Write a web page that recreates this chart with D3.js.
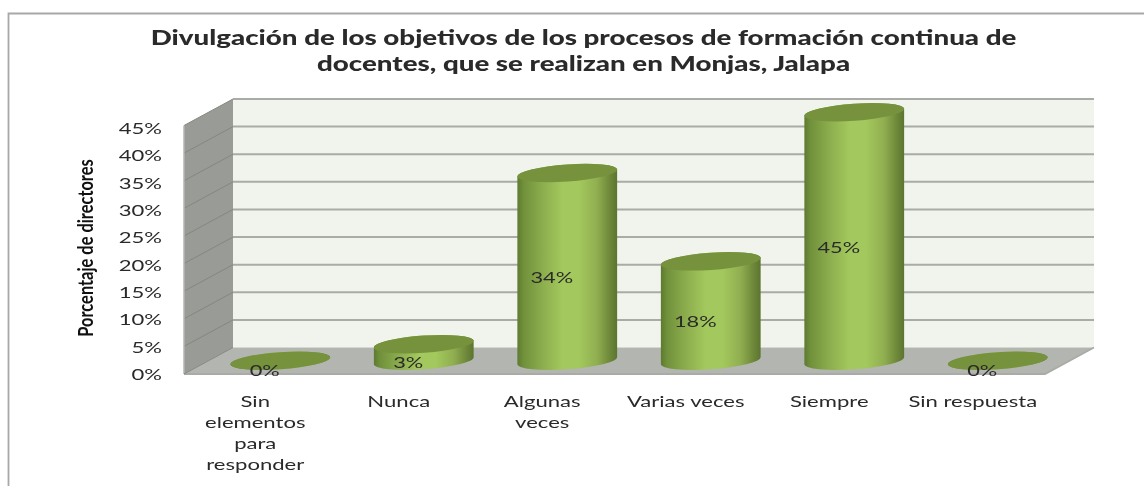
<!DOCTYPE html>
<html><head><meta charset="utf-8">
<script src="https://cdn.jsdelivr.net/npm/d3@7"></script>
<style>html,body{margin:0;padding:0;background:#fff}svg{display:block;filter:blur(.4px)}text{font-family:Lato,"Open Sans",sans-serif;fill:#2a2a2a}</style>
</head><body><svg id="c" width="1144" height="486"></svg>
<script>
const titleLines = ["Divulgación de los objetivos de los procesos de formación continua de","docentes, que se realizan en Monjas, Jalapa"];
const yTitle = "Porcentaje de directores";
const categories = [["Sin","elementos","para","responder"],["Nunca"],["Algunas","veces"],["Varias veces"],["Siempre"],["Sin respuesta"]];
const values = [0,3,34,18,45,0];
const yTicks = [0,5,10,15,20,25,30,35,40,45];

const svg = d3.select("#c");
const depthX = 49, depthY = -26.5;
const x = d3.scaleBand().domain(d3.range(categories.length)).range([184,1045]);
const y = d3.scaleLinear().domain([0,45]).range([374,125.5]);
const yLabel = d3.scaleLinear().domain([0,45]).range([374.5,128.5]);
const stretch = (sel,k)=>sel.each(function(){
  const n=this; n.setAttribute("textLength",n.getComputedTextLength()*k); n.setAttribute("lengthAdjust","spacingAndGlyphs");
});

// frame
svg.append("path").attr("d","M8.5,486V13.5H1144").attr("fill","none").attr("stroke","#a8a8a8").attr("stroke-width",1.8);

// gradient
const g = svg.append("defs").append("linearGradient").attr("id","cyl");
[[0,"#5d7a30"],[.06,"#71903b"],[.25,"#8cad4d"],[.45,"#a3c85d"],[.62,"#a3c85d"],[.8,"#90ae50"],[.92,"#6f8a3a"],[1,"#5b7530"]]
 .forEach(([o,c])=>g.append("stop").attr("offset",o).attr("stop-color",c));

const [x0,x1]=x.range(), y0=y(0), yT=y(45);
const gridC="#a9aba6";
// walls
svg.append("path").attr("d",`M${x0+depthX},${yT+depthY}H${x1+depthX}V${y0+depthY}H${x0+depthX}Z`).attr("fill","#f1f4ec");
svg.append("path").attr("d",`M${x0},${yT}L${x0+depthX},${yT+depthY}V${y0+depthY}L${x0},${y0}Z`).attr("fill","#999b96");
svg.append("path").attr("d",`M${x0},${y0}L${x0+depthX},${y0+depthY}H${x1+depthX}L${x1},${y0}Z`).attr("fill","#b3b5b0");
// grid
const grid=svg.append("g");
grid.selectAll("path.side").data(yTicks.filter(d=>d>0)).join("path").attr("class","side")
  .attr("d",d=>`M${x0},${y(d)}L${x0+depthX},${y(d)+depthY}`)
  .attr("fill","none").attr("stroke","#85877f").attr("stroke-width",1);
grid.selectAll("path.back").data(yTicks.filter(d=>d>0)).join("path").attr("class","back")
  .attr("d",d=>`M${x0+depthX},${y(d)+depthY}H${x1+depthX}`)
  .attr("fill","none").attr("stroke",gridC).attr("stroke-width",2);
svg.append("path").attr("d",`M${x0},${y0}H${x1}L${x1+depthX},${y0+depthY}`).attr("fill","none").attr("stroke",gridC).attr("stroke-width",1.8);
svg.append("path").attr("d",`M${x0},${yT}V${y0}`).attr("stroke","#b4b6b1").attr("stroke-width",1.5);
svg.append("path").attr("d",`M${x0},${y0}L${x0+depthX},${y0+depthY}`).attr("stroke","#85877f").attr("stroke-width",1);

// cylinders
const rx=50, ry=8.6, tilt=-4, cos=Math.cos(tilt*Math.PI/180), sin=Math.sin(tilt*Math.PI/180);
const cx=i=>x(i)+x.bandwidth()/2+depthX/2, base=y0+depthY/2;
const hgt=v=>y0-y(v);
const bars=svg.append("g").selectAll("g").data(values).join("g");
bars.append("path")
  .attr("d",(v,i)=>{
    const dx=rx*cos, dy=rx*sin, c=cx(i), t=base-hgt(v);
    return `M${c-dx},${t-dy}L${c-dx},${base-dy}A${rx},${ry},${tilt},0,0,${c+dx},${base+dy}L${c+dx},${t+dy}A${rx},${ry},${tilt},0,0,${c-dx},${t-dy}Z`;
  }).attr("fill","url(#cyl)");
bars.append("ellipse")
  .attr("rx",rx).attr("ry",ry).attr("fill","#76923c")
  .attr("transform",(v,i)=>`translate(${cx(i)},${base-hgt(v)}) rotate(${tilt})`);
// value labels
bars.append("text").attr("text-anchor","middle").attr("font-size",16)
  .attr("x",(v,i)=>cx(i)-15.5)
  .attr("y",v=>base-hgt(v)/2*0.985+15)
  .text(v=>v+"%").call(stretch,1.36);

// y axis
const ax=svg.append("g").attr("transform",`translate(${x0-22},0)`)
  .call(d3.axisLeft(yLabel).tickValues(yTicks).tickSize(0).tickPadding(0).tickFormat(d=>d+"%"));
ax.select(".domain").remove();
ax.selectAll("text").attr("font-size",16).attr("dy","0.32em").style("font-family",'Lato,"Open Sans",sans-serif').attr("fill","#2a2a2a").call(stretch,1.38);

// category labels
const cat=svg.append("g").selectAll("g").data(categories).join("g");
cat.each(function(lines,i){
  d3.select(this).selectAll("text").data(lines).join("text")
    .attr("x",x(i)+x.bandwidth()/2-0.5).attr("y",(d,j)=>406.5+j*21).attr("text-anchor","middle").attr("font-size",16)
    .text(d=>d).call(stretch,1.38);
});

// title
svg.append("g").selectAll("text").data(titleLines).join("text")
  .attr("x",583.5).attr("y",(d,i)=>44.5+i*26).attr("text-anchor","middle").attr("font-size",21).attr("font-weight",900)
  .attr("fill","#222").text(d=>d).call(stretch,1.32);

// y title
svg.append("text").attr("transform","translate(93,248) rotate(-90)").attr("text-anchor","middle")
  .attr("font-size",20).attr("font-weight",700).style("fill","#111").text(yTitle).call(stretch,.82);
</script></body></html>
